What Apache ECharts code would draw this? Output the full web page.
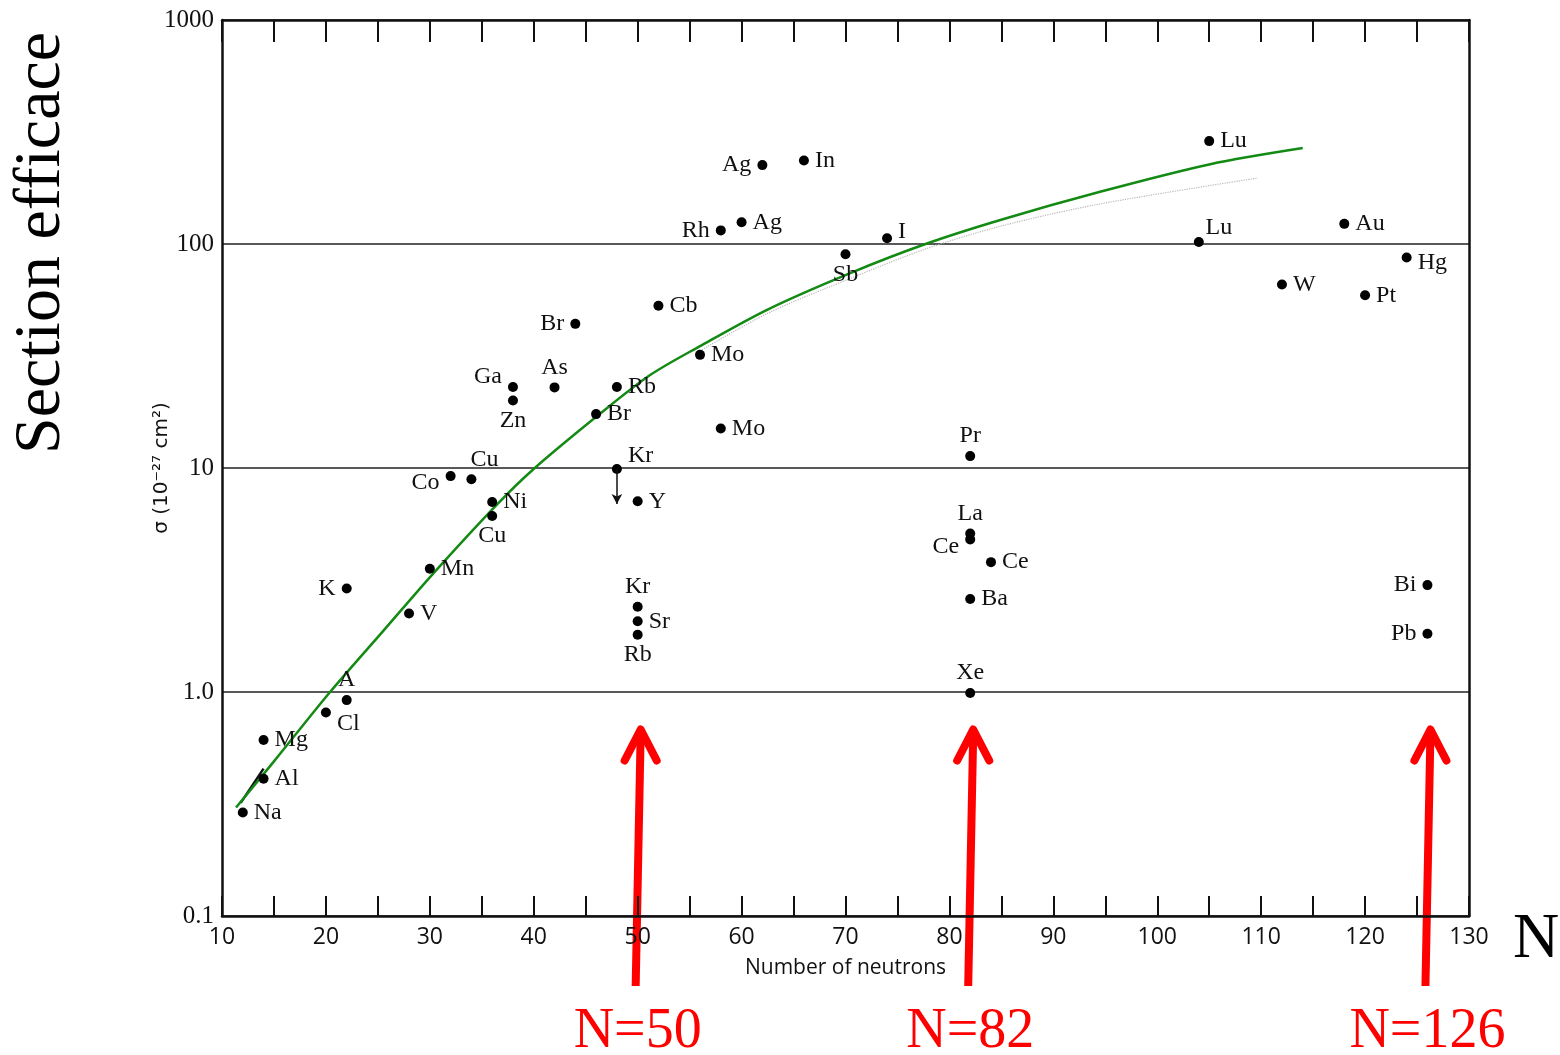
<!DOCTYPE html>
<html>
<head>
<meta charset="utf-8">
<script src="https://cdn.jsdelivr.net/npm/echarts@6/dist/echarts.min.js"></script>
<style>
  html, body { margin: 0; background: #fff; }
  #chart { width: 1560px; height: 1055px; }
</style>
</head>
<body>
<div id="chart"></div>
<script>
// Capture cross sections vs number of neutrons (log scale), with magic numbers marked.

const elements = ['Na', 'Al', 'Mg', 'Cl', 'A', 'K', 'V', 'Mn', 'Co', 'Cu',
  'Ni', 'Cu', 'Ga', 'Zn', 'As', 'Br', 'Br', 'Rb', 'Kr', 'Y',
  'Kr', 'Sr', 'Rb', 'Cb', 'Mo', 'Mo', 'Rh', 'Ag', 'Ag', 'In',
  'Sb', 'I', 'Pr', 'La', 'Ce', 'Ce', 'Ba', 'Xe', 'Lu', 'Lu',
  'W', 'Au', 'Pt', 'Hg', 'Bi', 'Pb']
const neutrons = [12, 14, 14, 20, 22, 22, 28, 30, 32, 34,
  36, 36, 38, 38, 42, 44, 46, 48, 48, 50,
  50, 50, 50, 52, 56, 58, 58, 60, 62, 66,
  70, 74, 82, 82, 82, 84, 82, 82, 104, 105,
  112, 118, 120, 124, 126, 126]
const sigma = [0.29, 0.41, 0.61, 0.81, 0.92, 2.9, 2.24, 3.55, 9.2, 8.9,
  7.05, 6.1, 23, 20, 22.9, 44, 17.4, 23, 9.9, 7.1,
  2.4, 2.07, 1.8, 53, 32, 15, 115, 125, 225, 236,
  90, 106, 11.3, 5.1, 4.8, 3.8, 2.6, 0.99, 102, 288,
  66, 123, 59, 87, 3.0, 1.82]

// green trend curve
const fitN = [11.35, 15, 20.4, 25.5, 30.3, 36.5, 40.1, 46.4, 51.2, 56, 62.5, 70.4, 77.7, 84.9, 94.5, 105.1, 114]
const fitSigma = [0.305, 0.49, 1.0, 1.87, 3.37, 6.9, 10.0, 17.5, 26, 35, 51, 74, 100, 128, 171, 227, 268]

// faint original pencil curve under the green one
const oldFitN = [56, 62.5, 70.4, 77.7, 84.9, 94.5, 109.7]
const oldFitSigma = [33.3, 49, 70, 95, 120, 151, 197]
const oldStartN = [11.8, 14.0]
const oldStartSigma = [0.32, 0.455]

// Kr upper limit arrow
const krArrowN = [48, 48]
const krArrowSigma = [9.9, 6.9]

const magicN = [50, 82, 126]
const magicLabels = ['N=50', 'N=82', 'N=126']

const yTickLabels = ['0.1', '1.0', '10', '100', '1000']

// label side per point: side[:dx:dy]
const labelSpec = ['r', 'r', 'r', 'r:0:11', 't', 'l', 'r', 'r', 'l:0:7', 't:13:0',
  'r', 'b', 'l:0:-10', 'b', 't', 'l', 'r', 'r', 'r:0:-13', 'r',
  't', 'r', 'b', 'r', 'r', 'r', 'l', 'r', 'l', 'r',
  'b', 'r:0:-7', 't', 't', 'l:0:7', 'r', 'r', 't', 't:20:6', 'r',
  'r', 'r', 'r', 'r:0:5', 'l', 'l']

const sideName = { r: 'right', l: 'left', t: 'top', b: 'bottom' }
const serif = '"Liberation Serif", "DejaVu Serif", serif'

function pointLabel(spec) {
  const parts = spec.split(':')
  return {
    show: true,
    formatter: '{b}',
    position: sideName[parts[0]],
    distance: parts[0] === 't' || parts[0] === 'b' ? 3 : 6,
    offset: [Number(parts[1] || 0), Number(parts[2] || 0)],
    fontFamily: serif,
    fontSize: 24,
    color: '#111'
  }
}

const points = elements.map(function (el, i) {
  return { name: el, value: [neutrons[i], sigma[i]], label: pointLabel(labelSpec[i]) }
})

function zip(a, b) { return a.map(function (v, i) { return [v, b[i]] }) }

const chart = echarts.init(document.getElementById('chart'))

const grid = { left: 222, right: 91, top: 20, bottom: 139 }
const boxLine = { show: true, lineStyle: { color: '#111', width: 2.5 } }

chart.setOption({
  animation: false,
  backgroundColor: '#fff',
  grid: grid,
  xAxis: [{
    type: 'value', min: 10, max: 130, interval: 5, position: 'bottom',
    axisLine: boxLine,
    axisTick: { show: true, inside: true, length: 20, lineStyle: { color: '#111', width: 2 } },
    axisLabel: {
      margin: 10, fontFamily: '"Open Sans", sans-serif', fontSize: 23, color: '#111',
      formatter: function (v) { return v % 10 === 0 ? String(v) : '' }
    },
    splitLine: { show: false },
    name: 'Number of neutrons', nameLocation: 'middle', nameGap: 42,
    nameTextStyle: { fontFamily: '"Open Sans", sans-serif', fontSize: 21, color: '#111' }
  }, {
    type: 'value', min: 10, max: 130, interval: 5, position: 'top',
    axisLine: boxLine,
    axisTick: { show: true, inside: true, length: 22, lineStyle: { color: '#111', width: 2 } },
    axisLabel: { show: false },
    splitLine: { show: false }
  }],
  yAxis: [{
    type: 'log', logBase: 10, min: 0.1, max: 1000, position: 'left',
    axisLine: boxLine,
    axisTick: { show: false },
    axisLabel: {
      margin: 8, fontFamily: serif, fontSize: 25, color: '#111',
      formatter: function (v) { return yTickLabels[Math.round(Math.log10(v)) + 1] }
    },
    splitLine: { show: true, lineStyle: { color: '#222', width: 1.5 } },
    name: 'σ (10⁻²⁷ cm²)', nameLocation: 'middle', nameRotate: 90, nameGap: 50,
    nameMoveOverlap: false,
    nameTextStyle: { fontFamily: '"DejaVu Sans", sans-serif', fontSize: 20, color: '#111' }
  }, {
    type: 'log', logBase: 10, min: 0.1, max: 1000, position: 'right',
    axisLine: boxLine,
    axisTick: { show: false },
    axisLabel: { show: false },
    splitLine: { show: false }
  }],
  series: [{
    type: 'line',
    data: zip(oldFitN, oldFitSigma),
    smooth: 0.3,
    showSymbol: false,
    lineStyle: { color: '#b8b8b8', width: 1.2, type: 'dotted' },
    silent: true
  }, {
    type: 'line',
    data: zip(oldStartN, oldStartSigma),
    showSymbol: false,
    lineStyle: { color: '#111', width: 2.5 },
    silent: true
  }, {
    type: 'line',
    data: zip(fitN, fitSigma),
    smooth: 0.3,
    showSymbol: false,
    lineStyle: { color: '#138a13', width: 2.5 },
    z: 3
  }, {
    type: 'scatter',
    data: points,
    symbol: 'circle',
    symbolSize: 10,
    itemStyle: { color: '#000', opacity: 1 },
    z: 4,
    markLine: {
      silent: true,
      symbol: ['none', 'arrow'],
      symbolSize: [8, 10],
      label: { show: false },
      lineStyle: { color: '#111', width: 1.5, type: 'solid' },
      data: [[{ coord: [krArrowN[0], krArrowSigma[0]] }, { coord: [krArrowN[1], krArrowSigma[1]] }]]
    }
  }]
})

// annotations: side title, big N, red magic-number arrows
const graphics = [{
  type: 'text', x: 42, y: 243, rotation: Math.PI / 2,
  style: { text: 'Section efficace', fontFamily: serif, fontSize: 66, fill: '#000', align: 'center', verticalAlign: 'middle' }
}, {
  type: 'text', x: 1536, y: 940,
  style: { text: 'N', fontFamily: serif, fontSize: 64, fill: '#000', align: 'center', verticalAlign: 'middle' }
}]

const plotBottom = chart.convertToPixel({ yAxisIndex: 0 }, 0.1)
magicN.forEach(function (n, i) {
  const px = chart.convertToPixel({ xAxisIndex: 0 }, n)
  const tipY = chart.convertToPixel({ yAxisIndex: 0 }, 0.68)
  const baseY = plotBottom + 70
  const bx = px - 2
  const tx = px + 3
  const redLine = { stroke: '#ff0000', lineWidth: 8, lineCap: 'round', lineJoin: 'round', fill: null }
  graphics.push({ type: 'line', shape: { x1: bx, y1: baseY, x2: tx, y2: tipY + 4 }, style: Object.assign({}, redLine, { lineCap: 'butt' }) })
  graphics.push({ type: 'polyline', shape: { points: [[tx - 16, tipY + 31], [tx, tipY], [tx + 16, tipY + 31]] }, style: redLine })
  graphics.push({
    type: 'text', x: bx + 2, y: 1032,
    style: { text: magicLabels[i], fontFamily: serif, fontSize: 56, fill: '#ff0000', align: 'center', verticalAlign: 'middle' }
  })
})

chart.setOption({ graphic: graphics })
</script>
</body>
</html>
